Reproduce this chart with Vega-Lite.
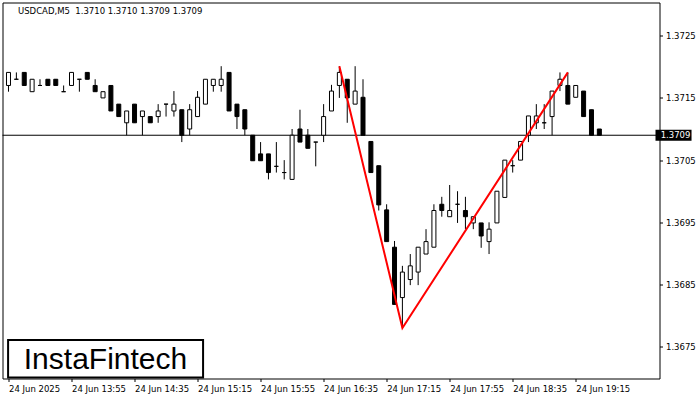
{
  "$schema": "https://vega.github.io/schema/vega-lite/v6.json",
  "width": 657,
  "height": 376,
  "autosize": "none",
  "padding": {"left": 2.5, "top": 2.5, "right": 40.5, "bottom": 21.5},
  "background": "white",
  "config": {"view": {"stroke": "black", "strokeWidth": 1}, "font": "DejaVu Sans"},
  "title": {"text": "USDCAD,M5\u00a0 1.3710 1.3710 1.3709 1.3709", "anchor": "start", "frame": "group", "offset": -13, "dx": 15.5, "font": "DejaVu Sans", "fontSize": 8.5, "fontWeight": "normal", "color": "black"},
  "data": {"values": [{}]},
  "datasets": {
    "candles": [
      {"t": "2025-06-24T13:15:00Z", "o": 1.37170, "h": 1.37191, "l": 1.37160, "c": 1.37191},
      {"t": "2025-06-24T13:20:00Z", "o": 1.37180, "h": 1.37191, "l": 1.37180, "c": 1.37180},
      {"t": "2025-06-24T13:25:00Z", "o": 1.37191, "h": 1.37191, "l": 1.37170, "c": 1.37170},
      {"t": "2025-06-24T13:30:00Z", "o": 1.37160, "h": 1.37180, "l": 1.37160, "c": 1.37180},
      {"t": "2025-06-24T13:35:00Z", "o": 1.37170, "h": 1.37180, "l": 1.37170, "c": 1.37170},
      {"t": "2025-06-24T13:40:00Z", "o": 1.37180, "h": 1.37180, "l": 1.37170, "c": 1.37170},
      {"t": "2025-06-24T13:45:00Z", "o": 1.37180, "h": 1.37180, "l": 1.37170, "c": 1.37170},
      {"t": "2025-06-24T13:50:00Z", "o": 1.37160, "h": 1.37170, "l": 1.37160, "c": 1.37160},
      {"t": "2025-06-24T13:55:00Z", "o": 1.37170, "h": 1.37191, "l": 1.37170, "c": 1.37191},
      {"t": "2025-06-24T14:00:00Z", "o": 1.37180, "h": 1.37180, "l": 1.37160, "c": 1.37180},
      {"t": "2025-06-24T14:05:00Z", "o": 1.37191, "h": 1.37191, "l": 1.37180, "c": 1.37180},
      {"t": "2025-06-24T14:10:00Z", "o": 1.37170, "h": 1.37180, "l": 1.37160, "c": 1.37160},
      {"t": "2025-06-24T14:15:00Z", "o": 1.37150, "h": 1.37160, "l": 1.37150, "c": 1.37160},
      {"t": "2025-06-24T14:20:00Z", "o": 1.37170, "h": 1.37170, "l": 1.37129, "c": 1.37129},
      {"t": "2025-06-24T14:25:00Z", "o": 1.37140, "h": 1.37140, "l": 1.37120, "c": 1.37120},
      {"t": "2025-06-24T14:30:00Z", "o": 1.37110, "h": 1.37129, "l": 1.37090, "c": 1.37129},
      {"t": "2025-06-24T14:35:00Z", "o": 1.37140, "h": 1.37140, "l": 1.37110, "c": 1.37110},
      {"t": "2025-06-24T14:40:00Z", "o": 1.37120, "h": 1.37129, "l": 1.37090, "c": 1.37129},
      {"t": "2025-06-24T14:45:00Z", "o": 1.37120, "h": 1.37120, "l": 1.37110, "c": 1.37110},
      {"t": "2025-06-24T14:50:00Z", "o": 1.37120, "h": 1.37140, "l": 1.37110, "c": 1.37129},
      {"t": "2025-06-24T14:55:00Z", "o": 1.37140, "h": 1.37140, "l": 1.37120, "c": 1.37140},
      {"t": "2025-06-24T15:00:00Z", "o": 1.37129, "h": 1.37161, "l": 1.37120, "c": 1.37140},
      {"t": "2025-06-24T15:05:00Z", "o": 1.37131, "h": 1.37131, "l": 1.37079, "c": 1.37090},
      {"t": "2025-06-24T15:10:00Z", "o": 1.37100, "h": 1.37140, "l": 1.37090, "c": 1.37131},
      {"t": "2025-06-24T15:15:00Z", "o": 1.37120, "h": 1.37161, "l": 1.37120, "c": 1.37151},
      {"t": "2025-06-24T15:20:00Z", "o": 1.37140, "h": 1.37180, "l": 1.37140, "c": 1.37180},
      {"t": "2025-06-24T15:25:00Z", "o": 1.37170, "h": 1.37180, "l": 1.37160, "c": 1.37180},
      {"t": "2025-06-24T15:30:00Z", "o": 1.37170, "h": 1.37201, "l": 1.37160, "c": 1.37180},
      {"t": "2025-06-24T15:35:00Z", "o": 1.37191, "h": 1.37191, "l": 1.37129, "c": 1.37129},
      {"t": "2025-06-24T15:40:00Z", "o": 1.37140, "h": 1.37140, "l": 1.37100, "c": 1.37120},
      {"t": "2025-06-24T15:45:00Z", "o": 1.37131, "h": 1.37131, "l": 1.37090, "c": 1.37100},
      {"t": "2025-06-24T15:50:00Z", "o": 1.37090, "h": 1.37090, "l": 1.37049, "c": 1.37049},
      {"t": "2025-06-24T15:55:00Z", "o": 1.37060, "h": 1.37079, "l": 1.37049, "c": 1.37049},
      {"t": "2025-06-24T16:00:00Z", "o": 1.37060, "h": 1.37060, "l": 1.37019, "c": 1.37030},
      {"t": "2025-06-24T16:05:00Z", "o": 1.37040, "h": 1.37079, "l": 1.37030, "c": 1.37040},
      {"t": "2025-06-24T16:10:00Z", "o": 1.37030, "h": 1.37050, "l": 1.37019, "c": 1.37030},
      {"t": "2025-06-24T16:15:00Z", "o": 1.37019, "h": 1.37100, "l": 1.37019, "c": 1.37090},
      {"t": "2025-06-24T16:20:00Z", "o": 1.37100, "h": 1.37131, "l": 1.37079, "c": 1.37079},
      {"t": "2025-06-24T16:25:00Z", "o": 1.37090, "h": 1.37100, "l": 1.37069, "c": 1.37069},
      {"t": "2025-06-24T16:30:00Z", "o": 1.37079, "h": 1.37079, "l": 1.37040, "c": 1.37079},
      {"t": "2025-06-24T16:35:00Z", "o": 1.37090, "h": 1.37140, "l": 1.37079, "c": 1.37120},
      {"t": "2025-06-24T16:40:00Z", "o": 1.37129, "h": 1.37171, "l": 1.37129, "c": 1.37161},
      {"t": "2025-06-24T16:45:00Z", "o": 1.37170, "h": 1.37201, "l": 1.37150, "c": 1.37191},
      {"t": "2025-06-24T16:50:00Z", "o": 1.37180, "h": 1.37180, "l": 1.37110, "c": 1.37150},
      {"t": "2025-06-24T16:55:00Z", "o": 1.37140, "h": 1.37201, "l": 1.37140, "c": 1.37161},
      {"t": "2025-06-24T17:00:00Z", "o": 1.37151, "h": 1.37180, "l": 1.37090, "c": 1.37090},
      {"t": "2025-06-24T17:05:00Z", "o": 1.37080, "h": 1.37080, "l": 1.37030, "c": 1.37030},
      {"t": "2025-06-24T17:10:00Z", "o": 1.37041, "h": 1.37041, "l": 1.36969, "c": 1.36978},
      {"t": "2025-06-24T17:15:00Z", "o": 1.36970, "h": 1.36979, "l": 1.36919, "c": 1.36919},
      {"t": "2025-06-24T17:20:00Z", "o": 1.36910, "h": 1.36920, "l": 1.36818, "c": 1.36818},
      {"t": "2025-06-24T17:25:00Z", "o": 1.36829, "h": 1.36880, "l": 1.36780, "c": 1.36870},
      {"t": "2025-06-24T17:30:00Z", "o": 1.36858, "h": 1.36899, "l": 1.36849, "c": 1.36880},
      {"t": "2025-06-24T17:35:00Z", "o": 1.36870, "h": 1.36910, "l": 1.36849, "c": 1.36910},
      {"t": "2025-06-24T17:40:00Z", "o": 1.36899, "h": 1.36939, "l": 1.36899, "c": 1.36919},
      {"t": "2025-06-24T17:45:00Z", "o": 1.36910, "h": 1.36979, "l": 1.36910, "c": 1.36969},
      {"t": "2025-06-24T17:50:00Z", "o": 1.36979, "h": 1.36991, "l": 1.36959, "c": 1.36969},
      {"t": "2025-06-24T17:55:00Z", "o": 1.36959, "h": 1.37010, "l": 1.36959, "c": 1.36969},
      {"t": "2025-06-24T18:00:00Z", "o": 1.36979, "h": 1.37000, "l": 1.36949, "c": 1.36979},
      {"t": "2025-06-24T18:05:00Z", "o": 1.36969, "h": 1.36991, "l": 1.36939, "c": 1.36959},
      {"t": "2025-06-24T18:10:00Z", "o": 1.36949, "h": 1.36959, "l": 1.36939, "c": 1.36959},
      {"t": "2025-06-24T18:15:00Z", "o": 1.36949, "h": 1.36949, "l": 1.36909, "c": 1.36928},
      {"t": "2025-06-24T18:20:00Z", "o": 1.36919, "h": 1.36950, "l": 1.36899, "c": 1.36939},
      {"t": "2025-06-24T18:25:00Z", "o": 1.36949, "h": 1.37000, "l": 1.36949, "c": 1.37000},
      {"t": "2025-06-24T18:30:00Z", "o": 1.36990, "h": 1.37050, "l": 1.36990, "c": 1.37050},
      {"t": "2025-06-24T18:35:00Z", "o": 1.37041, "h": 1.37050, "l": 1.37030, "c": 1.37041},
      {"t": "2025-06-24T18:40:00Z", "o": 1.37050, "h": 1.37080, "l": 1.37050, "c": 1.37080},
      {"t": "2025-06-24T18:45:00Z", "o": 1.37090, "h": 1.37121, "l": 1.37079, "c": 1.37121},
      {"t": "2025-06-24T18:50:00Z", "o": 1.37110, "h": 1.37140, "l": 1.37100, "c": 1.37121},
      {"t": "2025-06-24T18:55:00Z", "o": 1.37110, "h": 1.37140, "l": 1.37100, "c": 1.37110},
      {"t": "2025-06-24T19:00:00Z", "o": 1.37120, "h": 1.37161, "l": 1.37090, "c": 1.37161},
      {"t": "2025-06-24T19:05:00Z", "o": 1.37170, "h": 1.37191, "l": 1.37161, "c": 1.37180},
      {"t": "2025-06-24T19:10:00Z", "o": 1.37170, "h": 1.37191, "l": 1.37140, "c": 1.37140},
      {"t": "2025-06-24T19:15:00Z", "o": 1.37151, "h": 1.37170, "l": 1.37151, "c": 1.37170},
      {"t": "2025-06-24T19:20:00Z", "o": 1.37161, "h": 1.37161, "l": 1.37120, "c": 1.37120},
      {"t": "2025-06-24T19:25:00Z", "o": 1.37131, "h": 1.37131, "l": 1.37090, "c": 1.37090},
      {"t": "2025-06-24T19:30:00Z", "o": 1.37100, "h": 1.37100, "l": 1.37090, "c": 1.37090}
    ],
    "pattern": [
      {"t": "2025-06-24T16:45:00Z", "p": 1.37201},
      {"t": "2025-06-24T17:25:00Z", "p": 1.36780},
      {"t": "2025-06-24T19:10:00Z", "p": 1.37191}
    ]
  },
  "layer": [
    {
      "data": {"name": "candles"},
      "mark": {"type": "rule", "color": "black", "strokeWidth": 1},
      "encoding": {
        "x": {
          "field": "t", "type": "temporal",
          "scale": {"type": "utc", "domain": [
            {"year": 2025, "month": 6, "date": 24, "hours": 13, "minutes": 14, "seconds": 22, "milliseconds": 500, "utc": true},
            {"year": 2025, "month": 6, "date": 24, "hours": 20, "minutes": 5, "seconds": 0, "utc": true}
          ]},
          "axis": {
            "values": [
              {"year": 2025, "month": 6, "date": 24, "hours": 13, "minutes": 15, "utc": true},
              {"year": 2025, "month": 6, "date": 24, "hours": 13, "minutes": 55, "utc": true},
              {"year": 2025, "month": 6, "date": 24, "hours": 14, "minutes": 35, "utc": true},
              {"year": 2025, "month": 6, "date": 24, "hours": 15, "minutes": 15, "utc": true},
              {"year": 2025, "month": 6, "date": 24, "hours": 15, "minutes": 55, "utc": true},
              {"year": 2025, "month": 6, "date": 24, "hours": 16, "minutes": 35, "utc": true},
              {"year": 2025, "month": 6, "date": 24, "hours": 17, "minutes": 15, "utc": true},
              {"year": 2025, "month": 6, "date": 24, "hours": 17, "minutes": 55, "utc": true},
              {"year": 2025, "month": 6, "date": 24, "hours": 18, "minutes": 35, "utc": true},
              {"year": 2025, "month": 6, "date": 24, "hours": 19, "minutes": 15, "utc": true}
            ],
            "labelExpr": "utcFormat(datum.value, '%H:%M') == '13:15' ? '24 Jun 2025' : utcFormat(datum.value, '%d %b %H:%M')",
            "labelAlign": "left", "labelBaseline": "top", "labelPadding": 3,
            "labelFont": "DejaVu Sans", "labelFontSize": 8.5, "labelColor": "black",
            "labelOverlap": false, "labelBound": false, "labelFlush": false,
            "tickColor": "black", "tickSize": 3, "domain": false, "grid": false, "title": null
          }
        },
        "y": {
          "field": "l", "type": "quantitative",
          "scale": {"domain": [1.366989, 1.373034], "nice": false, "zero": false},
          "axis": {
            "orient": "right",
            "values": [1.3675, 1.3685, 1.3695, 1.3705, 1.3715, 1.3725],
            "format": ".4f", "labelFont": "DejaVu Sans", "labelFontSize": 8.5, "labelColor": "black",
            "labelPadding": 3, "tickSize": 3, "tickColor": "black", "domain": false, "grid": false, "title": null,
            "labelBound": false, "labelOverlap": false
          }
        },
        "y2": {"field": "h"}
      }
    },
    {
      "mark": {"type": "rule", "color": "black", "strokeWidth": 1},
      "encoding": {"y": {"datum": 1.3709, "type": "quantitative"}}
    },
    {
      "data": {"name": "candles"},
      "mark": {"type": "bar", "orient": "vertical", "size": 4, "stroke": "black", "strokeWidth": 1},
      "encoding": {
        "x": {"field": "t", "type": "temporal"},
        "y": {"field": "o", "type": "quantitative"},
        "y2": {"field": "c"},
        "fill": {"condition": {"test": "datum.o > datum.c", "value": "black"}, "value": "white"}
      }
    },
    {
      "data": {"name": "pattern"},
      "mark": {"type": "line", "color": "#ff0000", "strokeWidth": 2},
      "encoding": {
        "x": {"field": "t", "type": "temporal"},
        "y": {"field": "p", "type": "quantitative"}
      }
    },
    {
      "mark": {"type": "rect", "fill": "white", "stroke": "black", "strokeWidth": 2},
      "encoding": {
        "x": {"datum": {"year": 2025, "month": 6, "date": 24, "hours": 13, "minutes": 14, "seconds": 45, "utc": true}, "type": "temporal"},
        "x2": {"datum": {"year": 2025, "month": 6, "date": 24, "hours": 15, "minutes": 18, "seconds": 30, "utc": true}},
        "y": {"datum": 1.367608, "type": "quantitative"},
        "y2": {"datum": 1.367005}
      }
    },
    {
      "mark": {"type": "text", "text": "InstaFintech", "font": "Liberation Sans", "fontSize": 30, "align": "center", "baseline": "middle", "color": "black"},
      "encoding": {
        "x": {"datum": {"year": 2025, "month": 6, "date": 24, "hours": 14, "minutes": 16, "seconds": 34, "utc": true}, "type": "temporal"},
        "y": {"datum": 1.367286, "type": "quantitative"}
      }
    },
    {
      "mark": {"type": "rect", "fill": "black"},
      "encoding": {
        "x": {"datum": {"year": 2025, "month": 6, "date": 24, "hours": 20, "minutes": 5, "seconds": 38, "utc": true}, "type": "temporal"},
        "x2": {"datum": {"year": 2025, "month": 6, "date": 24, "hours": 20, "minutes": 28, "seconds": 30, "utc": true}},
        "y": {"datum": 1.370811, "type": "quantitative"},
        "y2": {"datum": 1.370989}
      }
    },
    {
      "mark": {"type": "text", "text": "1.3709", "font": "DejaVu Sans", "fontSize": 8.5, "align": "left", "baseline": "middle", "color": "white"},
      "encoding": {
        "x": {"datum": {"year": 2025, "month": 6, "date": 24, "hours": 20, "minutes": 8, "seconds": 54, "utc": true}, "type": "temporal"},
        "y": {"datum": 1.3709, "type": "quantitative"}
      }
    }
  ]
}
